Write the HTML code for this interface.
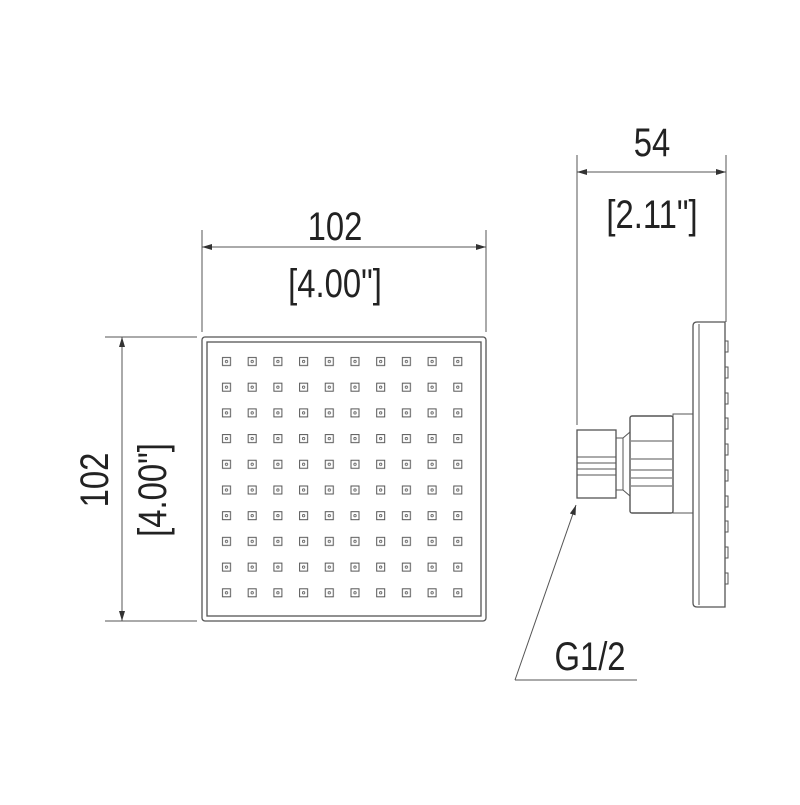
<!DOCTYPE html>
<html><head><style>
body{margin:0;background:#fff}
svg text{font-family:"Liberation Sans",sans-serif;fill:#222}
</style></head><body>
<svg width="800" height="800" viewBox="0 0 800 800" xmlns="http://www.w3.org/2000/svg">
<defs>
<marker id="a" viewBox="0 0 10 6" refX="10" refY="3" markerWidth="18" markerHeight="6" markerUnits="userSpaceOnUse" orient="auto-start-reverse"><path d="M0,0L10,3L0,6z" fill="#333"/></marker>
<pattern id="h" x="214" y="349" width="25.7" height="25.7" patternUnits="userSpaceOnUse">
<rect x="8.5" y="8.5" width="8" height="8" fill="none" stroke="#555" stroke-width="1"/>
<circle cx="12.5" cy="12.5" r="1.2" fill="none" stroke="#555" stroke-width="0.8"/>
</pattern>
</defs>
<g stroke="#555" fill="none" stroke-width="1">
<line x1="202" y1="230" x2="202" y2="332"/>
<line x1="486" y1="230" x2="486" y2="332"/>
<line x1="202" y1="247" x2="486" y2="247" marker-start="url(#a)" marker-end="url(#a)"/>
<line x1="105" y1="337" x2="197" y2="337"/>
<line x1="105" y1="621" x2="197" y2="621"/>
<line x1="122" y1="337" x2="122" y2="621" marker-start="url(#a)" marker-end="url(#a)"/>
<rect x="202" y="337" width="284" height="284" rx="3" stroke-width="1.3"/>
<rect x="207" y="342" width="274" height="274" stroke-width="1.3"/>
<rect x="214" y="349" width="257" height="257" stroke="none" fill="url(#h)"/>
<line x1="577" y1="155" x2="577" y2="425"/>
<line x1="726" y1="155" x2="726" y2="322"/>
<line x1="577" y1="172" x2="726" y2="172" marker-start="url(#a)" marker-end="url(#a)"/>
<path d="M697,322 H725 V607 H697 Q693,607 693,603 V326 Q693,322 697,322z" stroke-width="1.3"/>
<line x1="699" y1="324" x2="699" y2="605"/>
<path d="M725,341h3v11h-3 M725,367h3v11h-3 M725,393h3v11h-3 M725,418h3v11h-3 M725,444h3v11h-3 M725,470h3v11h-3 M725,496h3v11h-3 M725,521h3v11h-3 M725,547h3v11h-3 M725,573h3v11h-3"/>
<rect x="673" y="414" width="20" height="99"/>
<rect x="630" y="416" width="43" height="97" rx="2" stroke-width="1.4"/>
<line x1="631" y1="441" x2="672" y2="441"/>
<line x1="631" y1="459" x2="672" y2="459"/>
<line x1="631" y1="470" x2="672" y2="470"/>
<line x1="631" y1="478" x2="672" y2="478"/>
<line x1="631" y1="486" x2="672" y2="486"/>
<path d="M616,438 L623,438 L630,432 M616,490 L623,490 L630,496 M623,438 V490"/>
<rect x="577" y="430" width="39" height="68" stroke-width="1.3"/>
<line x1="577" y1="457" x2="616" y2="457"/>
<line x1="577" y1="463" x2="616" y2="463"/>
<line x1="577" y1="469" x2="616" y2="469"/>
<line x1="577" y1="475" x2="616" y2="475"/>
<line x1="515" y1="680" x2="576" y2="505" marker-end="url(#a)"/>
<line x1="515" y1="680" x2="637" y2="680"/>
</g>
<g font-size="40">
<text transform="translate(335,240) scale(0.82,1)" text-anchor="middle">102</text>
<text transform="translate(335,297) scale(0.82,1)" text-anchor="middle">[4.00"]</text>
<text transform="translate(652,156) scale(0.82,1)" text-anchor="middle">54</text>
<text transform="translate(652,228) scale(0.82,1)" text-anchor="middle">[2.11"]</text>
<text transform="translate(108,480) rotate(-90) scale(0.82,1)" text-anchor="middle">102</text>
<text transform="translate(166,490) rotate(-90) scale(0.82,1)" text-anchor="middle">[4.00"]</text>
<text transform="translate(590,670) scale(0.82,1)" text-anchor="middle">G1/2</text>
</g>
</svg>
</body></html>
